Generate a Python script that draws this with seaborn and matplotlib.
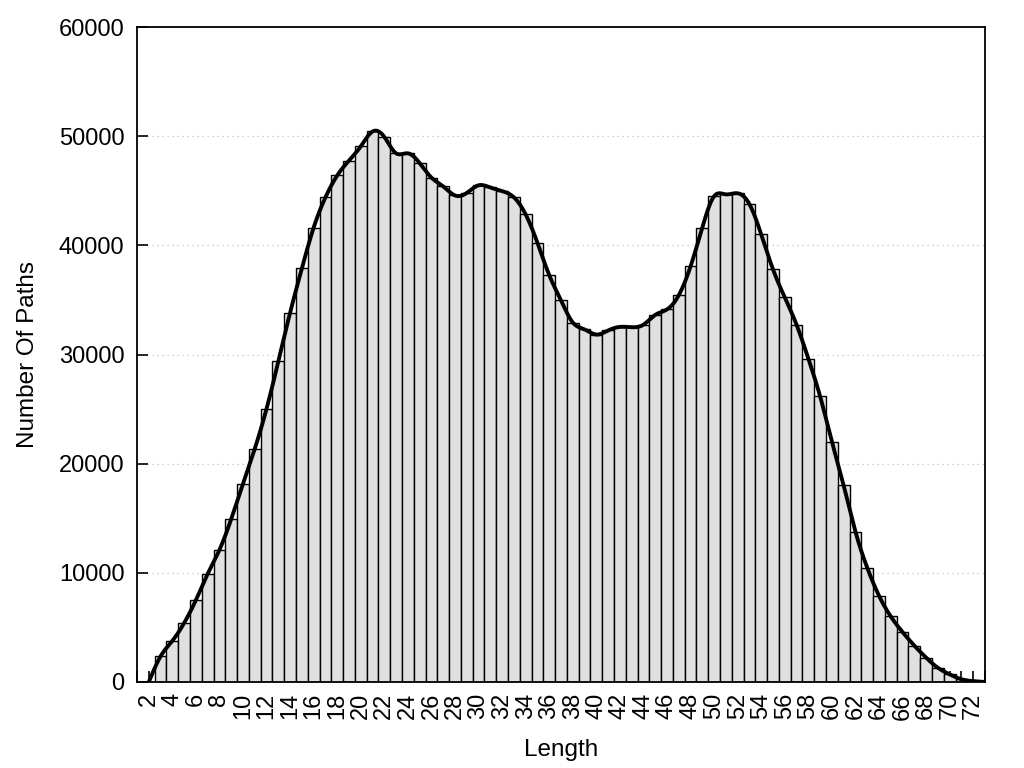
import numpy as np
import pandas as pd
import matplotlib
matplotlib.use("Agg")
import matplotlib.pyplot as plt
import seaborn as sns
from matplotlib.ticker import MultipleLocator

# ---- data ----
lengths = list(range(2, 74))
counts = [0, 2350, 3770, 5400, 7500, 9900, 12100, 14930, 18170, 21370,
          25030, 29370, 33830, 37900, 41630, 44400, 46400, 47770, 49070, 50430,
          49930, 48430, 48430, 47530, 46200, 45400, 44570, 44800, 45500, 45300,
          44970, 44400, 42830, 40230, 37270, 34970, 32930, 32300, 31830, 32200,
          32530, 32500, 32730, 33630, 34130, 35430, 38070, 41630, 44500, 44670,
          44770, 43770, 41000, 37800, 35230, 32730, 29630, 26170, 22030, 18000,
          13770, 10470, 7900, 6000, 4570, 3330, 2230, 1300, 700, 250,
          80, 0]
y_ticks = [0, 10000, 20000, 30000, 40000, 50000, 60000]
x_label_ticks = list(range(2, 73, 2))
x_label = "Length"
y_label = "Number Of Paths"


def natural_cubic_spline(x, y, xs):
    x = np.asarray(x, float)
    y = np.asarray(y, float)
    n = len(x)
    h = np.diff(x)
    A = np.zeros((n, n))
    b = np.zeros(n)
    A[0, 0] = 1
    A[-1, -1] = 1
    for i in range(1, n - 1):
        A[i, i - 1] = h[i - 1]
        A[i, i] = 2 * (h[i - 1] + h[i])
        A[i, i + 1] = h[i]
        b[i] = 6 * ((y[i + 1] - y[i]) / h[i] - (y[i] - y[i - 1]) / h[i - 1])
    M = np.linalg.solve(A, b)
    idx = np.clip(np.searchsorted(x, xs) - 1, 0, n - 2)
    x0, x1 = x[idx], x[idx + 1]
    hh = x1 - x0
    t0 = x1 - xs
    t1 = xs - x0
    return (M[idx] * t0 ** 3 / (6 * hh) + M[idx + 1] * t1 ** 3 / (6 * hh)
            + (y[idx] / hh - M[idx] * hh / 6) * t0
            + (y[idx + 1] / hh - M[idx + 1] * hh / 6) * t1)


sns.set_theme(style="white")
plt.rcParams["font.family"] = ["Liberation Sans", "DejaVu Sans"]

fig = plt.figure(figsize=(10.24, 7.68), dpi=100)
ax = fig.add_axes([0.1338, 0.112, 0.8281, 0.8528])

df = pd.DataFrame({"Length": lengths, "Count": counts})
sns.barplot(data=df, x="Length", y="Count", native_scale=True, width=1.0,
            color="#e0e0e0", saturation=1, edgecolor="black", linewidth=1.0,
            errorbar=None, ax=ax, zorder=2)

xs = np.linspace(lengths[0], lengths[-1], 1500)
ys = natural_cubic_spline(lengths, counts, xs)
sns.lineplot(x=xs, y=ys, color="black", linewidth=2.8, ax=ax, zorder=3,
             sort=False)

ax.set_xlim(1, 73)
ax.set_ylim(0, 60000)
ax.set_yticks(y_ticks)
ax.set_yticklabels([str(v) for v in y_ticks])
ax.set_xticks(x_label_ticks)
ax.set_xticklabels([str(v) for v in x_label_ticks], rotation=90)
ax.xaxis.set_minor_locator(MultipleLocator(1))

ax.tick_params(axis="both", which="both", direction="in", length=8,
               width=1.2, color="black", labelsize=17,
               labelcolor="black", top=False, right=False)
ax.tick_params(axis="x", which="both", bottom=True, pad=8)
ax.tick_params(axis="y", which="both", left=True, pad=9)

ax.yaxis.grid(True, linestyle=(0, (1, 3)), color="#c0c0c0", linewidth=0.9)
ax.xaxis.grid(False)
ax.set_axisbelow(True)

for s in ax.spines.values():
    s.set_visible(True)
    s.set_color("black")
    s.set_linewidth(1.3)
    s.set_zorder(5)

ax.set_xlabel(x_label, fontsize=17.5, color="black", labelpad=14)
ax.set_ylabel(y_label, fontsize=17.5, color="black", labelpad=14)
ax.set_facecolor("white")
fig.patch.set_facecolor("white")

fig.savefig("out.png", dpi=100)
